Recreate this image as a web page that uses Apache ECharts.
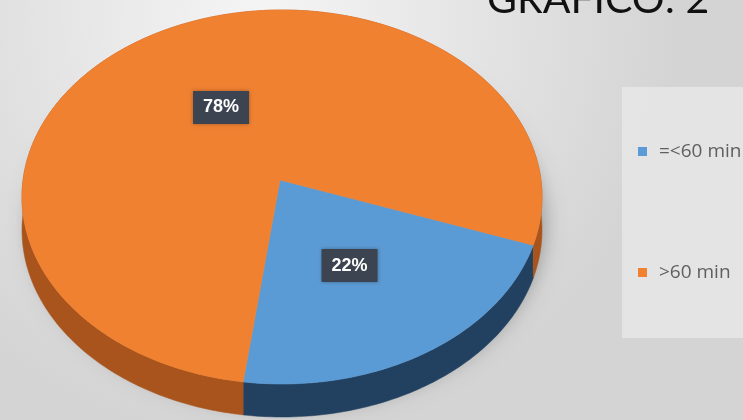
<!DOCTYPE html>
<html><head><meta charset="utf-8">
<script src="https://cdn.jsdelivr.net/npm/echarts@6/dist/echarts.min.js"></script>
<style>html,body{margin:0;padding:0;background:#e6e6e6}#c{width:743px;height:420px}</style>
</head><body><div id="c"></div>
<script>
// ---- data ----
const categories = ['=<60 min', '>60 min'];
const values = [22, 78];
const titleText = 'GRÁFICO: 2';

// ---- style / geometry ----
const topColors = ['#5b9bd5', '#f08131'];
const sideColors = ['#22405f', '#a8541c'];
const PIE = {cx: 282, cy: 197, a: 260, b: 187, ax: 280, ay: 180, k: 0.76, startDeg: 18.7, depth: 33, labelFrac: 0.49};
const total = values.reduce((s, v) => s + v, 0);

function rimPoint(theta) {
  const dx = Math.cos(theta), dy = PIE.k * Math.sin(theta);
  const Ax = PIE.ax - PIE.cx, Ay = PIE.ay - PIE.cy;
  const a2 = PIE.a * PIE.a, b2 = PIE.b * PIE.b;
  const A = dx * dx / a2 + dy * dy / b2;
  const B = 2 * (Ax * dx / a2 + Ay * dy / b2);
  const C = Ax * Ax / a2 + Ay * Ay / b2 - 1;
  const s = (-B + Math.sqrt(B * B - 4 * A * C)) / (2 * A);
  return [PIE.ax + s * dx, PIE.ay + s * dy];
}
function arcPoints(t0, t1) {
  const n = Math.max(8, Math.ceil((t1 - t0) / (Math.PI / 180)));
  const pts = [];
  for (let i = 0; i <= n; i++) pts.push(rimPoint(t0 + (t1 - t0) * i / n));
  return pts;
}
function makeRender(idx) {
  return function (params, api) {
    const v = api.value(0);
    const before = values.slice(0, idx).reduce((s, x) => s + x, 0);
    const t0 = PIE.startDeg * Math.PI / 180 + 2 * Math.PI * before / total;
    const t1 = t0 + 2 * Math.PI * v / total;
    const arc = arcPoints(t0, t1);
    const topPts = [[PIE.ax, PIE.ay]].concat(arc);
    const wallPts = arc.concat(arc.slice().reverse().map(p => [p[0], p[1] + PIE.depth]));
    const rp = rimPoint((t0 + t1) / 2);
    const lx = PIE.ax + (rp[0] - PIE.ax) * PIE.labelFrac;
    const ly = PIE.ay + (rp[1] - PIE.ay) * PIE.labelFrac;
    return {
      type: 'group',
      children: [
        {type: 'polygon', shape: {points: wallPts}, style: {fill: sideColors[idx], stroke: sideColors[idx], lineWidth: 0.5}, z2: 1},
        {type: 'polygon', shape: {points: topPts}, style: {fill: topColors[idx], stroke: topColors[idx], lineWidth: 0.6}, z2: 10},
        {type: 'text', x: lx, y: ly, z2: 20, style: {
          text: Math.round(v / total * 100) + '%', fill: '#ffffff',
          font: 'bold 18px "Liberation Sans", Arial, sans-serif',
          align: 'center', verticalAlign: 'middle',
          backgroundColor: '#3d4451', padding: [8, 10, 7, 10],
          shadowColor: 'rgba(0,0,0,0.3)', shadowBlur: 4
        }}
      ]
    };
  };
}

function ellipsePts(cx, cy, a, b) {
  const pts = [];
  for (let i = 0; i < 180; i++) { const t = i / 180 * Math.PI * 2; pts.push([cx + a * Math.cos(t), cy + b * Math.sin(t)]); }
  return pts;
}

const chart = echarts.init(document.getElementById('c'), null, {renderer: 'canvas'});
chart.setOption({
  animation: false,
  graphic: {elements: [
    {type: 'rect', z: -10, shape: {x: 0, y: 0, width: 743, height: 420}, silent: true,
     style: {fill: {type: 'radial', x: 0.35, y: 0.05, r: 1.0, colorStops: [{offset: 0, color: '#f5f5f5'}, {offset: 1, color: '#d4d4d4'}]}}},
    {type: 'rect', z: -9, shape: {x: 622, y: 87, width: 125, height: 251}, silent: true,
     style: {fill: 'rgba(240,240,240,0.55)'}},
    {type: 'polygon', z: -8, silent: true, shape: {points: ellipsePts(PIE.cx + 2, PIE.cy + PIE.depth / 2 + 4, PIE.a - 4, PIE.b - 4)},
     style: {fill: '#c8c8c8', shadowColor: 'rgba(0,0,0,0.35)', shadowBlur: 22, shadowOffsetX: 3, shadowOffsetY: 6}},
    {type: 'text', z: -7, x: 487, y: 0, silent: true,
     style: {text: titleText, fill: '#111111', font: '41px Lato, "Open Sans", sans-serif', verticalAlign: 'middle', align: 'left'}}
  ]},
  legend: {
    orient: 'vertical', left: 633, top: 137, itemGap: 102, itemWidth: 9, itemHeight: 9, icon: 'rect',
    data: categories,
    textStyle: {color: '#5f5f5f', fontSize: 19, fontFamily: '"Open Sans", sans-serif', padding: [0, 0, 0, 7]}
  },
  series: categories.map((name, i) => ({
    type: 'custom', name: name, coordinateSystem: 'none',
    itemStyle: {color: topColors[i]},
    renderItem: makeRender(i),
    data: [[values[i]]]
  }))
});
</script></body></html>
